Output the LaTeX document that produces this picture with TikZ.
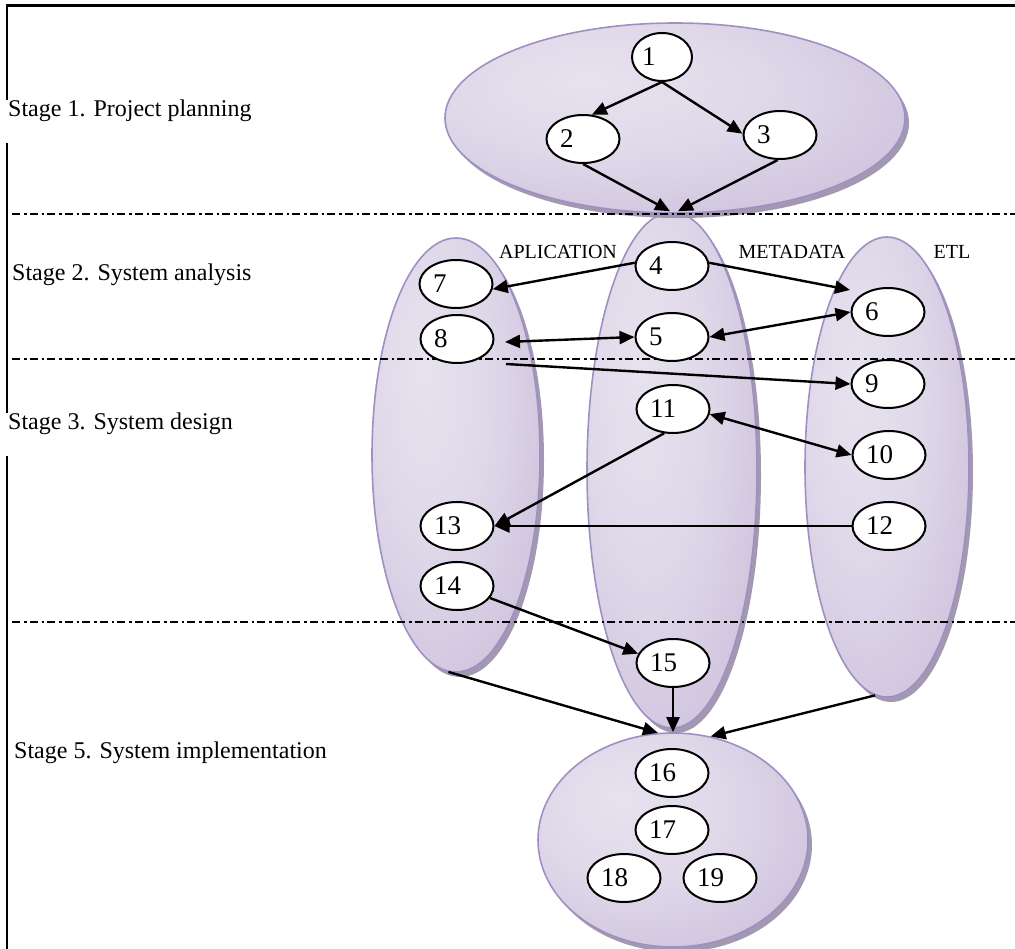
\documentclass[tikz,border=0pt]{standalone}
\usepackage{fontspec}
\setmainfont{Liberation Serif}
\usetikzlibrary{arrows.meta,calc,shapes.geometric,shadows}
\definecolor{lavA}{HTML}{E7E2EF}
\definecolor{lavA2}{HTML}{DFD8E9}
\definecolor{lavB}{HTML}{C8BCDA}
\definecolor{lavC}{HTML}{B5A7CE}
\definecolor{lavD}{HTML}{A796C3}
\definecolor{lavEdge}{HTML}{A090C2}
\definecolor{lavShadow}{HTML}{9D94AC}
\pgfdeclareradialshading{lavshade}{\pgfpoint{-10bp}{10bp}}{color(0bp)=(lavA); color(18bp)=(lavA2); color(42bp)=(lavB); color(58bp)=(lavC); color(75bp)=(lavD)}
\begin{document}
\begin{tikzpicture}[x=1pt,y=-1pt,
  big/.style={ellipse, draw=lavEdge, line width=1.6pt, shading=lavshade, inner sep=0pt,
    drop shadow={shadow xshift=4pt, shadow yshift=-5pt, fill=lavShadow, opacity=0.95}},
  num/.style={ellipse, draw=black, line width=2pt, fill=white, minimum width=73pt,
    minimum height=48pt, inner sep=0pt, font=\fontsize{27}{30}\selectfont},
  arr/.style={line width=2.4pt, -{Triangle[length=15pt,width=13pt]}},
  darr/.style={line width=2.4pt, {Triangle[length=15pt,width=13pt]}-{Triangle[length=15pt,width=13pt]}},
  sepline/.style={line width=1.8pt, dash pattern=on 8pt off 4pt on 2.5pt off 3pt},
  stagelbl/.style={anchor=base west, fill=white, inner xsep=3pt, inner ysep=0pt,
    text height=17pt, text depth=26pt, font=\fontsize{24}{28}\selectfont},
  collbl/.style={anchor=base, inner sep=0pt, font=\fontsize{20}{24}\selectfont}]
\useasboundingbox (0,0) rectangle (1015,949);

% big shaded ellipses
\node[big, minimum width=168pt, minimum height=434pt] (colL) at (456,455) {};
\node[big, minimum width=170pt, minimum height=516pt] (colM) at (672,470) {};
\node[big, minimum width=164pt, minimum height=460pt] (colR) at (887,467) {};
\node[big, minimum width=460pt, minimum height=190pt] (topE) at (675,118) {};
\node[big, minimum width=270pt, minimum height=214pt] (botE) at (673,840) {};

% stage separators
\draw[sepline] (12,214) -- (1015,214);
\draw[sepline] (12,359) -- (1015,359);
\draw[sepline] (12,622) -- (1015,622);

% numbered nodes
\node[num, minimum width=60pt, minimum height=48pt] (n1) at (662,57) {\makebox[40pt][l]{1}};
\node[num] (n2) at (583,139) {\makebox[46pt][l]{2}};
\node[num] (n3) at (780,135) {\makebox[46pt][l]{3}};
\node[num] (n4) at (672,266) {\makebox[46pt][l]{4}};
\node[num] (n5) at (672,337) {\makebox[46pt][l]{5}};
\node[num] (n6) at (888,312) {\makebox[46pt][l]{6}};
\node[num] (n7) at (456,284) {\makebox[46pt][l]{7}};
\node[num] (n8) at (457,339) {\makebox[46pt][l]{8}};
\node[num] (n9) at (888,384) {\makebox[46pt][l]{9}};
\node[num] (n10) at (889,455) {\makebox[46pt][l]{10}};
\node[num] (n11) at (673,409) {\makebox[46pt][l]{11}};
\node[num] (n12) at (889,526) {\makebox[46pt][l]{12}};
\node[num] (n13) at (457,526) {\makebox[46pt][l]{13}};
\node[num] (n14) at (457,586) {\makebox[46pt][l]{14}};
\node[num] (n15) at (673,663) {\makebox[46pt][l]{15}};
\node[num] (n16) at (672,773) {\makebox[46pt][l]{16}};
\node[num] (n17) at (672,830) {\makebox[46pt][l]{17}};
\node[num] (n18) at (624,878) {\makebox[46pt][l]{18}};
\node[num] (n19) at (720,878) {\makebox[46pt][l]{19}};

% free ends
\coordinate (c46) at (850,290);
\coordinate (c85) at (505,342);
\coordinate (c89) at (506,364);

% connectors
\draw[arr] (n1.south) -- (n2.70);
\draw[arr] (n1.south) -- (n3.178);
\draw[arr] (n2.south) -- ([xshift=-2pt]colM.north);
\draw[arr] (n3.265) -- ([xshift=6pt]colM.north);
\draw[arr] (n4.175) -- (n7.-8);
\draw[arr] (n4.5) -- (c46);
\draw[darr] (c85) -- (n5.west);
\draw[darr] (n5.east) -- (n6.west);
\draw[arr] (c89) -- (n9.west);
\draw[darr] (n10.west) -- (n11.-8);
\draw[arr] (n11.250) -- (n13.east);
\draw[arr] (n12.west) -- (n13.east);
\draw[arr] (n14.-20) -- (n15.165);
\draw[arr] (colL.268) -- (botE.98);
\draw[arr] (n15.south) -- (botE.north);
\draw[arr] (colR.267) -- (botE.70);

% column labels
\node[collbl] (lapp) at (558,259) {APLICATION};
\node[collbl] (lmeta) at (792,259) {METADATA};
\node[collbl] (letl) at (952,259) {ETL};

% frame
\draw[line width=2.8pt] (7,949) -- (7,5.5) -- (1015,5.5);

% stage labels
\node[stagelbl] (s1) at (5,117) {Stage 1. Project planning};
\node[stagelbl] (s2) at (9,281) {Stage 2. System analysis};
\node[stagelbl] (s3) at (5,430) {Stage 3. System design};
\node[stagelbl] (s5) at (11,758) {Stage 5. System implementation};
\end{tikzpicture}
\end{document}
